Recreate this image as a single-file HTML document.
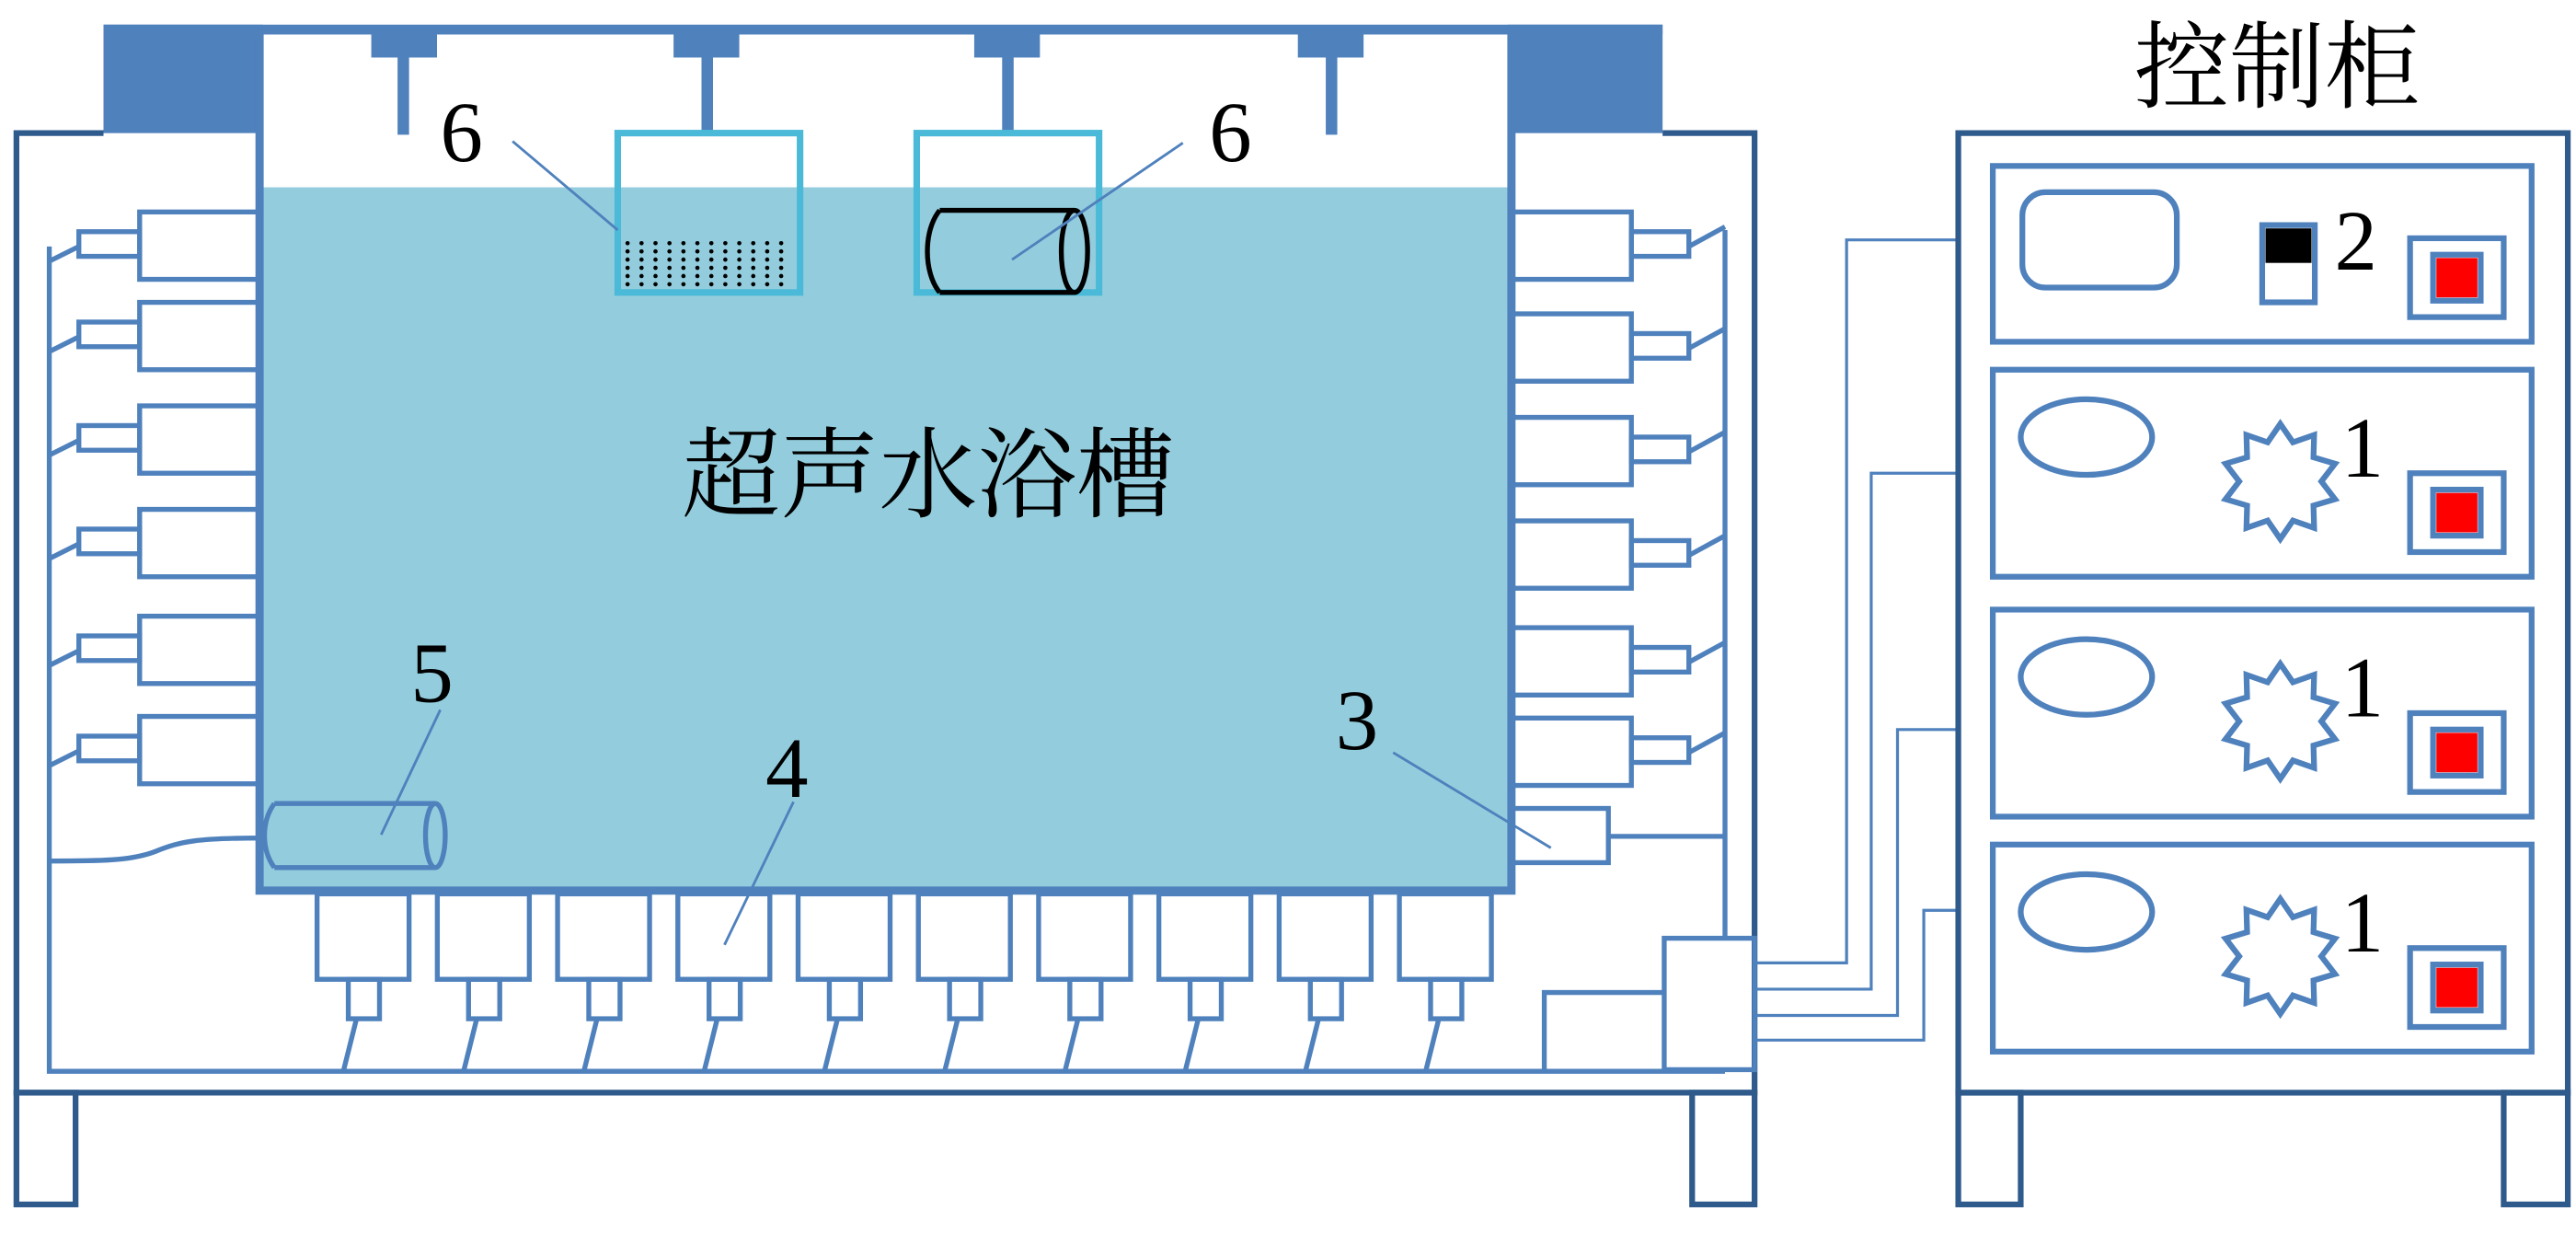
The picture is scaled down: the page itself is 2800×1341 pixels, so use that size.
<!DOCTYPE html>
<html><head><meta charset="utf-8"><style>
html,body{margin:0;padding:0;background:#fff;}
svg{display:block;}
.n{font-family:"Liberation Serif","Noto Serif CJK SC",serif;fill:#000;}
</style></head><body>
<svg width="2800" height="1341" viewBox="0 0 1568 751" preserveAspectRatio="none" xmlns="http://www.w3.org/2000/svg">
<g fill="none" stroke-linejoin="miter">
<path d="M63 81 H10 V665 H1068 V81 H1012" stroke="#2E5A8C" stroke-width="3.5"/>
<rect x="10" y="665" width="36" height="68" stroke="#2E5A8C" stroke-width="3.5"/>
<rect x="1030" y="665" width="38" height="68" stroke="#2E5A8C" stroke-width="3.5"/>
<rect x="63" y="15" width="949" height="6" fill="#4F81BD" stroke="none"/>
<rect x="63" y="15" width="97" height="66" fill="#4F81BD" stroke="none"/>
<rect x="918" y="15" width="94" height="66" fill="#4F81BD" stroke="none"/>
<rect x="158" y="114" width="762" height="428" fill="#93CDDD" stroke="none"/>
<path d="M158 21 V542 H920 V21" stroke="#4F81BD" stroke-width="5"/>
<g fill="#4F81BD" stroke="none">
<rect x="226" y="20" width="40" height="15"/><rect x="242" y="30" width="7" height="52"/>
<rect x="410" y="20" width="40" height="15"/><rect x="427" y="30" width="7" height="52"/>
<rect x="593" y="20" width="40" height="15"/><rect x="610" y="30" width="7" height="52"/>
<rect x="790" y="20" width="40" height="15"/><rect x="807" y="30" width="7" height="52"/>
</g>
<rect x="376" y="81" width="111" height="97" stroke="#4BBAD8" stroke-width="4"/>
<rect x="558" y="81" width="111" height="97" stroke="#4BBAD8" stroke-width="4"/>
<g fill="#000" stroke="none">
<g id="dr">
<circle cx="382" cy="148" r="1.3"/><circle cx="390.5" cy="148" r="1.3"/><circle cx="399" cy="148" r="1.3"/><circle cx="407.5" cy="148" r="1.3"/><circle cx="416" cy="148" r="1.3"/><circle cx="424.5" cy="148" r="1.3"/><circle cx="433" cy="148" r="1.3"/><circle cx="441.5" cy="148" r="1.3"/><circle cx="450" cy="148" r="1.3"/><circle cx="458.5" cy="148" r="1.3"/><circle cx="467" cy="148" r="1.3"/><circle cx="475.5" cy="148" r="1.3"/>
</g>
<use href="#dr" y="5"/><use href="#dr" y="10"/><use href="#dr" y="15"/><use href="#dr" y="20"/><use href="#dr" y="25"/>
</g>
<path d="M572 128 H654 M572 178 H654 M572 128 C562 140 562 166 572 178" stroke="#000" stroke-width="3"/>
<ellipse cx="654" cy="153" rx="8" ry="25" stroke="#000" stroke-width="3"/>
<g stroke="#4F81BD" stroke-width="3">
<path d="M30 150 V652 H1050"/>
<g id="lt"><rect x="85" y="129" width="73" height="41"/><rect x="48" y="141" width="37" height="15"/><path d="M48 150 L30 159"/></g>
<use href="#lt" y="55"/><use href="#lt" y="118"/><use href="#lt" y="181"/><use href="#lt" y="246"/><use href="#lt" y="307"/>
<path d="M1050 140 V571"/>
<g id="rt"><rect x="920" y="129" width="73" height="41"/><rect x="993" y="141" width="35" height="15"/><path d="M1028 150 L1050 138"/></g>
<use href="#rt" y="62"/><use href="#rt" y="125"/><use href="#rt" y="188"/><use href="#rt" y="253"/><use href="#rt" y="308"/>
<rect x="920" y="492" width="59" height="33"/><path d="M979 509 H1050"/>
<g id="bt"><rect x="193" y="544" width="56" height="52"/><rect x="212" y="596" width="19" height="24"/><path d="M217 620 L209 652"/></g>
<use href="#bt" x="73.2"/><use href="#bt" x="146.4"/><use href="#bt" x="219.6"/><use href="#bt" x="292.8"/><use href="#bt" x="366"/><use href="#bt" x="439.2"/><use href="#bt" x="512.4"/><use href="#bt" x="585.6"/><use href="#bt" x="658.8"/>
<path d="M167 489 H265 M167 528 H265 M167 489 C159 500 159 517 167 528"/>
<ellipse cx="265" cy="508.5" rx="6" ry="19.5"/>
<path d="M160 510 C120 510 110 512 95 518 C80 524 60 524 30 524"/>
<rect x="1013" y="571" width="55" height="80"/>
<path d="M940 652 V604 H1013"/>
</g>
<g stroke="#4F81BD" stroke-width="1.8">
<path d="M1068 586 H1124 V146 H1192"/>
<path d="M1068 602 H1139 V288 H1192"/>
<path d="M1068 618 H1155 V444 H1192"/>
<path d="M1068 633 H1171 V554 H1192"/>
</g>
<g stroke="#4F81BD" stroke-width="1.6">
<path d="M312 86 L376 140"/><path d="M720 87 L616 158"/>
<path d="M268 432 L232 508"/><path d="M483 488 L441 575"/><path d="M848 458 L944 516"/>
</g>
<rect x="1192" y="81" width="371" height="584" stroke="#2E5A8C" stroke-width="3.5"/>
<rect x="1192" y="665" width="38" height="68" stroke="#2E5A8C" stroke-width="3.5"/>
<rect x="1524" y="665" width="39" height="68" stroke="#2E5A8C" stroke-width="3.5"/>
<g stroke="#4F81BD" stroke-width="3.5">
<rect x="1213" y="101" width="328" height="107"/>
<rect x="1231" y="117" width="94" height="58" rx="14"/>
<rect x="1377" y="137" width="32" height="47"/>
<rect x="1467" y="145" width="57" height="48"/>
<rect x="1481" y="155" width="29" height="28"/>
<g id="pn">
<rect x="1213" y="225" width="328" height="126"/>
<ellipse cx="1270" cy="266" rx="40" ry="23"/>
<polygon points="1388,258 1395.7,269.2 1408.6,264.7 1408.2,278.3 1421.3,282.2 1413,293 1421.3,303.8 1408.2,307.7 1408.6,321.3 1395.7,316.8 1388,328 1380.3,316.8 1367.4,321.3 1367.8,307.7 1354.7,303.8 1363,293 1354.7,282.2 1367.8,278.3 1367.4,264.7 1380.3,269.2"/>
<rect x="1467" y="288" width="57" height="48"/>
<rect x="1481" y="298" width="29" height="28"/>
</g>
<use href="#pn" y="146"/><use href="#pn" y="289"/>
</g>
<rect x="1379" y="139" width="28" height="21" fill="#000"/>
<g fill="#FF0000">
<rect x="1483" y="157" width="25" height="24"/>
<rect x="1483" y="300" width="25" height="24"/>
<rect x="1483" y="446" width="25" height="24"/>
<rect x="1483" y="589" width="25" height="24"/>
</g>
</g>
<text class="n" x="268" y="98" font-size="52">6</text>
<text class="n" x="736" y="98" font-size="52">6</text>
<text class="n" x="250" y="427" font-size="52">5</text>
<text class="n" x="466" y="485" font-size="52">4</text>
<text class="n" x="813" y="456" font-size="52">3</text>
<text class="n" x="1421" y="164" font-size="52">2</text>
<text class="n" x="1425" y="290" font-size="52">1</text>
<text class="n" x="1425" y="436" font-size="52">1</text>
<text class="n" x="1425" y="579" font-size="52">1</text>
<text class="n" x="565" y="310" font-size="60" text-anchor="middle">超声水浴槽</text>
<text class="n" x="1386" y="61" font-size="58" text-anchor="middle">控制柜</text>
</svg>
</body></html>
